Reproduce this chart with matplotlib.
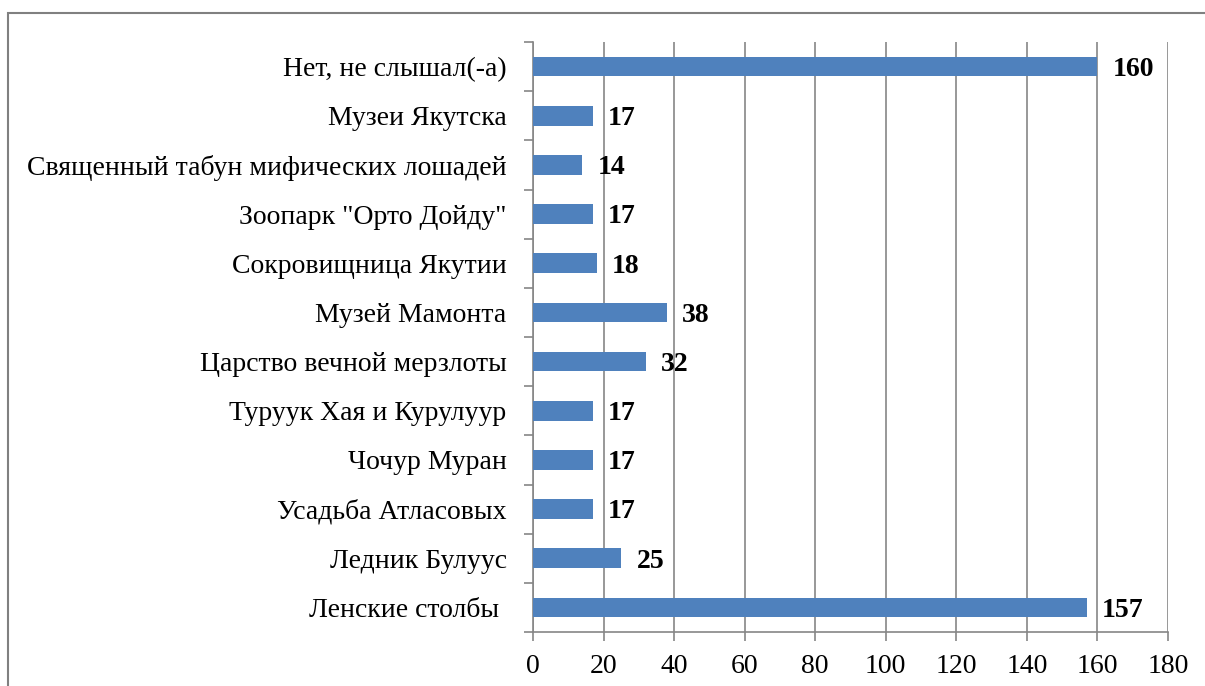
import matplotlib.pyplot as plt
from matplotlib.patches import Rectangle

plt.rcParams['font.family'] = ['Liberation Serif', 'DejaVu Serif']

categories = [
    'Ленские столбы ',
    'Ледник Булуус',
    'Усадьба Атласовых',
    'Чочур Муран',
    'Туруук Хая и Курулуур',
    'Царство вечной мерзлоты',
    'Музей Мамонта',
    'Сокровищница Якутии',
    'Зоопарк "Орто Дойду"',
    'Священный табун мифических лошадей',
    'Музеи Якутска',
    'Нет, не слышал(-а)',
]
values = [157, 25, 17, 17, 17, 32, 38, 18, 17, 14, 17, 160]
xticks = [0, 20, 40, 60, 80, 100, 120, 140, 160, 180]

W, H = 1205, 686
fig = plt.figure(figsize=(W / 100, H / 100), dpi=100)
ax = fig.add_axes([533 / W, 1 - 632 / H, (1168 - 533) / W, (632 - 42) / H])

grid_c = '#868686'
ypos = list(range(len(categories)))
ax.barh(ypos, values, height=0.4, color='#4F81BD', zorder=3)

for y, v in zip(ypos, values):
    ax.annotate(str(v), (v, y), xytext=(11, -2), textcoords='offset points',
                va='center', ha='left', fontsize=20, fontweight='bold', zorder=4)

ax.set_xlim(0, 180)
ax.set_ylim(-0.5, len(categories) - 0.5)
ax.set_xticks(xticks)
ax.set_xticklabels([str(t) for t in xticks], fontsize=20)
ax.set_yticks(ypos)
ax.set_yticklabels(categories, fontsize=20)
ax.set_yticks([i - 0.5 for i in range(len(categories) + 1)], minor=True)

ax.xaxis.grid(True, color=grid_c, linewidth=1.2, zorder=0)
ax.tick_params(axis='y', which='major', length=0, pad=19)
ax.tick_params(axis='y', which='minor', length=6.5, color=grid_c, width=1.2)
ax.tick_params(axis='x', length=6.5, color=grid_c, width=1.2, pad=9)

for s in ['top', 'right']:
    ax.spines[s].set_visible(False)
for s in ['left', 'bottom']:
    ax.spines[s].set_color(grid_c)
    ax.spines[s].set_linewidth(1.2)

# outer chart frame
fig.add_artist(Rectangle((8 / W, -0.2), 1.3, 1.2 - 13 / H, transform=fig.transFigure,
                         fill=False, edgecolor='#808080', linewidth=1.5))

fig.savefig('out.png', dpi=100)
